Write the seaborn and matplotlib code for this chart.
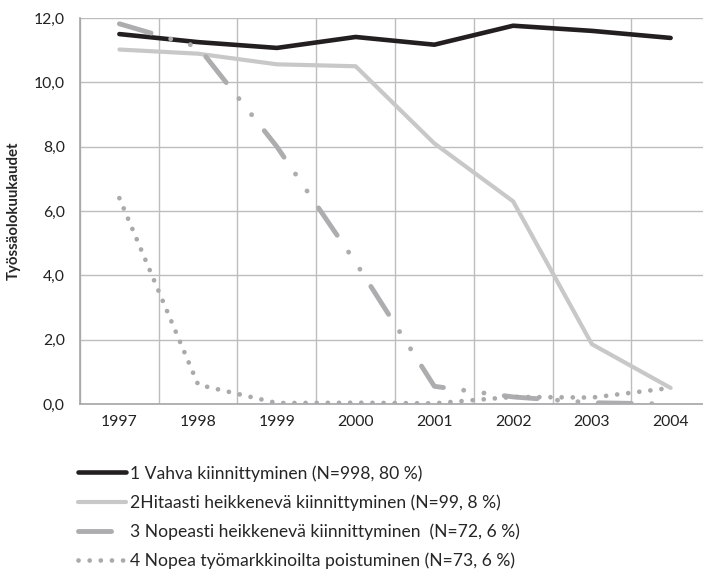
import seaborn as sns
import matplotlib.pyplot as plt
import pandas as pd

years = ["1997", "1998", "1999", "2000", "2001", "2002", "2003", "2004"]
vahva = [11.5, 11.25, 11.07, 11.41, 11.17, 11.76, 11.6, 11.38]
hitaasti = [11.02, 10.89, 10.56, 10.5, 8.1, 6.3, 1.86, 0.5]
nopeasti = [11.82, 11.1, 8.0, 4.4, 0.55, 0.22, 0.04, 0.0]
poistuminen = [6.4, 0.6, 0.03, 0.04, 0.02, 0.22, 0.2, 0.5]

labels = [
    "1 Vahva kiinnittyminen (N=998, 80 %)",
    "2Hitaasti heikkenevä kiinnittyminen (N=99, 8 %)",
    "3 Nopeasti heikkenevä kiinnittyminen  (N=72, 6 %)",
    "4 Nopea työmarkkinoilta poistuminen (N=73, 6 %)",
]
series = [vahva, hitaasti, nopeasti, poistuminen]
colors = ["#231f20", "#c8c8c8", "#adadaf", "#aaaaac"]
widths = [3.3, 3.0, 3.5, 3.4]
styles = ["-", "-", (0, (6.8, 4.2, 0.01, 4.2, 0.01, 4.2)), (0, (0.01, 2.35))]

sns.set_style("white")
plt.rcParams["font.family"] = ["Lato", "DejaVu Sans"]
plt.rcParams["lines.dash_capstyle"] = "round"
plt.rcParams["lines.solid_capstyle"] = "round"

fig = plt.figure(figsize=(7.03, 5.71), dpi=100)
ax = fig.add_axes([80 / 703, 1 - 404 / 571, 630 / 703, 386 / 571])

for vals, lab, c, w, ls in zip(series, labels, colors, widths, styles):
    df = pd.DataFrame({"x": range(len(years)), "y": vals})
    sns.lineplot(data=df, x="x", y="y", ax=ax, color=c, linewidth=w,
                 linestyle=ls, label=lab, legend=False, zorder=3)

ax.set_xlim(-0.5, 7.5)
ax.set_ylim(0, 12)
ax.set_xticks(range(len(years)))
ax.set_xticklabels(years)
ax.set_xticks([i + 0.5 for i in range(-1, 8)], minor=True)
ax.set_yticks([0, 2, 4, 6, 8, 10, 12])
ax.set_yticklabels(["0,0", "2,0", "4,0", "6,0", "8,0", "10,0", "12,0"])
ax.grid(False)
ax.grid(which="minor", axis="x", color="#bdbdbf", linewidth=1)
ax.grid(which="major", axis="y", color="#bdbdbf", linewidth=1)
ax.tick_params(which="both", length=0, labelsize=11.3, colors="#222222")
ax.tick_params(axis="y", pad=11)
ax.tick_params(axis="x", pad=8)
for s in ["top", "right"]:
    ax.spines[s].set_visible(False)
for s in ["left", "bottom"]:
    ax.spines[s].set_color("#a6a6a8")
    ax.spines[s].set_linewidth(1.2)
ax.set_xlabel("")
ax.set_ylabel("Työssäolokuukaudet", fontsize=10.8, fontweight="bold", labelpad=9)

handles, labs = ax.get_legend_handles_labels()
fig.legend(handles, labs, loc="upper left", bbox_to_anchor=(78 / 703, 1 - 465 / 571),
           frameon=False, fontsize=12.6, handlelength=2.75, handletextpad=0.2,
           labelspacing=0.72, borderpad=0, borderaxespad=0)

fig.savefig("out.png", dpi=100)
